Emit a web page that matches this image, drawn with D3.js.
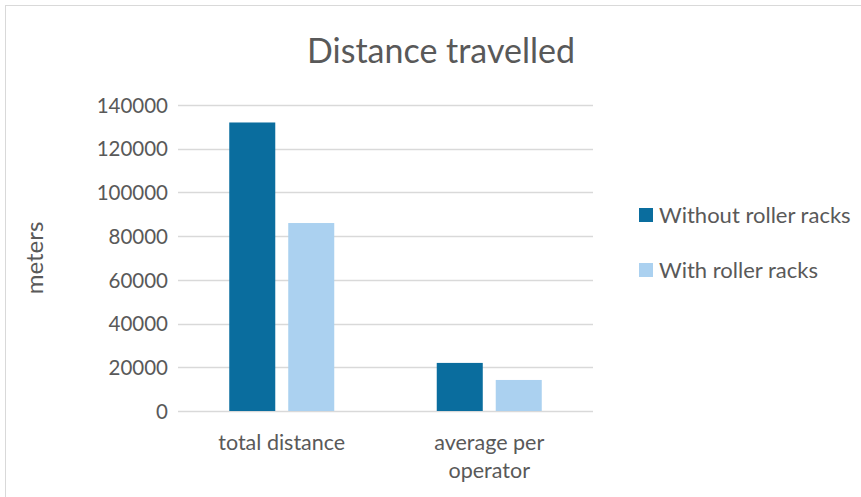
<!DOCTYPE html>
<html>
<head>
<meta charset="utf-8">
<script src="https://cdn.jsdelivr.net/npm/d3@7"></script>
<style>
  body { margin: 0; background: #fff; }
  svg text { font-family: Lato, "Open Sans", sans-serif; fill: #595959; }
</style>
</head>
<body>
<svg id="chart"></svg>
<script>
// data
let categories = ["total distance", "average per operator"];
let seriesNames = ["Without roller racks", "With roller racks"];
let withoutRacks = [132000, 22000];
let withRacks = [86000, 14200];
let yTicks = [0, 20000, 40000, 60000, 80000, 100000, 120000, 140000];
let colors = ["#0a6d9e", "#abd1f0"];

function drawChart(){
    let width = 861;
    let height = 497;

    let svg = d3.select("#chart")
        .attr("width", width)
        .attr("height", height);

    // chart frame
    svg.append("rect")
        .attr("x", 5.5).attr("y", 5.5)
        .attr("width", width + 10).attr("height", height + 10)
        .attr("fill", "#fff")
        .attr("stroke", "#d9d9d9");

    let plot = {left: 178, right: 593, top: 105, bottom: 411};

    let y = d3.scaleLinear()
        .domain([0, 140000])
        .range([plot.bottom, plot.top]);

    let x0 = d3.scaleBand()
        .domain(categories)
        .range([plot.left, plot.right]);

    let groupW = 105;
    let x1 = d3.scaleBand()
        .domain(seriesNames)
        .range([(x0.bandwidth() - groupW) / 2, (x0.bandwidth() + groupW) / 2])
        .paddingInner(0.22);

    // gridlines
    svg.append("g")
        .selectAll("line")
        .data(yTicks)
        .enter()
        .append("line")
        .attr("x1", plot.left)
        .attr("x2", plot.right)
        .attr("y1", d => Math.round(y(d)) + 0.5)
        .attr("y2", d => Math.round(y(d)) + 0.5)
        .attr("stroke", "#d9d9d9")
        .attr("stroke-width", 1.3);

    // y axis labels
    let yAxis = d3.axisLeft(y).tickValues(yTicks).tickFormat(d3.format("d")).tickSize(0).tickPadding(0);
    let ga = svg.append("g")
        .attr("transform", `translate(${plot.left - 10},0)`)
        .call(yAxis);
    ga.select(".domain").remove();
    ga.selectAll("text")
        .style("font-size", "20.5px")
        .attr("fill", "#595959")
        .attr("dy", "0.35em");

    // bars
    let rows = categories.map((c, i) => ({cat: c, vals: [withoutRacks[i], withRacks[i]]}));
    let groups = svg.append("g")
        .selectAll("g")
        .data(rows)
        .enter()
        .append("g")
        .attr("transform", d => `translate(${x0(d.cat)},0)`);

    groups.selectAll("rect")
        .data(d => d.vals.map((v, j) => ({name: seriesNames[j], value: v, color: colors[j]})))
        .enter()
        .append("rect")
        .attr("x", d => x1(d.name))
        .attr("width", x1.bandwidth())
        .attr("y", d => y(d.value))
        .attr("height", d => y(0) - y(d.value))
        .attr("fill", d => d.color);

    // category labels, wrapped like the original
    let catLines = {"total distance": ["total distance"], "average per operator": ["average per", "operator"]};
    svg.append("g")
        .selectAll("text")
        .data(categories)
        .enter()
        .append("text")
        .attr("x", d => x0(d) + x0.bandwidth() / 2)
        .attr("y", 450)
        .attr("text-anchor", "middle")
        .style("font-size", "21.5px")
        .each(function(d){
            let t = d3.select(this);
            catLines[d].forEach((line, i) => {
                t.append("tspan")
                    .attr("x", x0(d) + x0.bandwidth() / 2)
                    .attr("dy", i === 0 ? 0 : 28)
                    .text(line);
            });
        });

    // title
    svg.append("text")
        .attr("x", 441)
        .attr("y", 63)
        .attr("text-anchor", "middle")
        .style("font-size", "34px")
        .text("Distance travelled");

    // y axis title
    svg.append("text")
        .attr("transform", `translate(43,${(plot.top + plot.bottom) / 2}) rotate(-90)`)
        .attr("text-anchor", "middle")
        .style("font-size", "24px")
        .text("meters");

    // legend
    let legend = svg.append("g")
        .selectAll("g")
        .data(seriesNames)
        .enter()
        .append("g")
        .attr("transform", (d, i) => `translate(639,${208 + i * 55})`);
    legend.append("rect")
        .attr("width", 14).attr("height", 14)
        .attr("fill", (d, i) => colors[i]);
    legend.append("text")
        .attr("x", 20)
        .attr("y", 7)
        .attr("dy", "0.35em")
        .style("font-size", "22px")
        .text(d => d);
}
drawChart();
</script>
</body>
</html>
